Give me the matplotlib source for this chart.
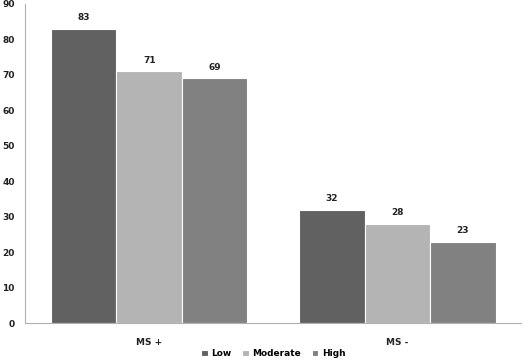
import matplotlib.pyplot as plt
import numpy as np

categories = ["MS +", "MS -"]
series = ["Low", "Moderate", "High"]
low = [83, 32]
moderate = [71, 28]
high = [69, 23]
colors = ["#616161", "#b4b4b4", "#818181"]

plt.rcParams["font.weight"] = "bold"

fig = plt.figure(figsize=(5.24, 3.61), dpi=100)
ax = fig.add_axes([0.048, 0.105, 0.947, 0.884])

x = np.arange(len(categories))
w = 0.264
for i, (name, vals) in enumerate(zip(series, [low, moderate, high])):
    bars = ax.bar(x + (i - 1) * w, vals, w, color=colors[i], edgecolor="white",
                  linewidth=0.8, label=name)
    for b, v in zip(bars, vals):
        ax.text(b.get_x() + b.get_width() / 2, v + 1.8, str(v), ha="center",
                va="bottom", fontsize=6.5, color="#222222")

ax.set_xlim(-0.5, 1.5)
ax.set_ylim(0, 90)
ax.set_yticks(range(0, 91, 10))
ax.set_xticks(x)
ax.set_xticklabels(categories)
ax.tick_params(length=0, labelsize=6.5, colors="#222222")
ax.tick_params(axis="y", pad=7.5)
ax.tick_params(axis="x", pad=11)
for s in ["top", "right"]:
    ax.spines[s].set_visible(False)
ax.spines["left"].set_color("#b0b0b0")
ax.spines["bottom"].set_color("#b0b0b0")

ax.legend(loc="center", bbox_to_anchor=(0.5, -0.095), ncol=3,
          frameon=False, fontsize=6.5, handlelength=0.7, handleheight=0.7,
          handletextpad=0.4, columnspacing=1.2)

fig.savefig("out.png", dpi=100)
